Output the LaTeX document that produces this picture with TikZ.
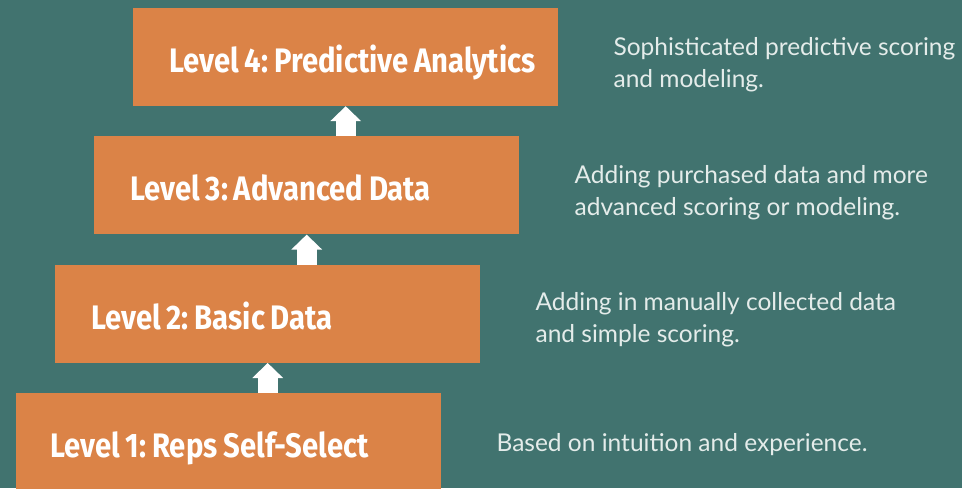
\documentclass[tikz,border=0pt]{standalone}
\usepackage{fontspec}
\setmainfont{Lato}
\newfontfamily\titlefont[FakeStretch=0.86,WordSpace=0.85]{Fira Sans}
\usepackage{tikz}
\usetikzlibrary{arrows.meta,positioning}

\definecolor{tealbg}{HTML}{41736F}
\definecolor{boxorange}{HTML}{DB8347}
\definecolor{notetext}{HTML}{E4ECEA}

\tikzset{
  level/.style={fill=boxorange, minimum width=425pt, minimum height=98pt, inner sep=0pt},
  title/.style={text=white, inner sep=0pt, text depth=0pt, yshift=-2pt,
    font=\frenchspacing\titlefont\bfseries\fontsize{34}{34}\selectfont},
  note/.style={text=notetext, align=left, inner sep=0pt,
    font=\fontsize{24.5}{32}\selectfont},
  uparrow/.style={white, line width=20pt, -{Triangle[width=30pt,length=15pt]}}
}

\begin{document}
\begin{tikzpicture}[x=1pt,y=-1pt]
  \fill[tealbg] (0,0) rectangle (962,488);
  \useasboundingbox (0,0) rectangle (962,488);
  \node[level, anchor=north west] (level1) at (16,393) {};
  \node[level, above=30pt of level1, xshift=39pt] (level2) {};
  \node[level, above=30pt of level2, xshift=39pt] (level3) {};
  \node[level, above=30pt of level3, xshift=39pt] (level4) {};
  \node[title, right=34pt of level1.west] (title1) {Level 1: Reps Self-Select};
  \node[title, right=36pt of level2.west] (title2) {Level 2: Basic Data};
  \node[title, right=36pt of level3.west] (title3) {Level 3: Advanced Data};
  \node[title, right=36pt of level4.west] (title4) {Level 4: Predictive Analytics};
  \draw[uparrow] (level1.north -| level2) -- (level2.south);
  \draw[uparrow] (level2.north -| level3) -- (level3.south);
  \draw[uparrow] (level3.north -| level4) -- (level4.south);
  \node[note, right=55pt of level1, yshift=-2pt] (note1) {Based on intuition and experience.};
  \node[note, right=55pt of level2, yshift=-6pt] (note2) {Adding in manually collected data\\and simple scoring.};
  \node[note, right=55pt of level3, yshift=-7pt] (note3) {Adding purchased data and more\\advanced scoring or modeling.};
  \node[note, right=55pt of level4, yshift=-8pt] (note4) {Sophisticated predictive scoring\\and modeling.};
\end{tikzpicture}
\end{document}
